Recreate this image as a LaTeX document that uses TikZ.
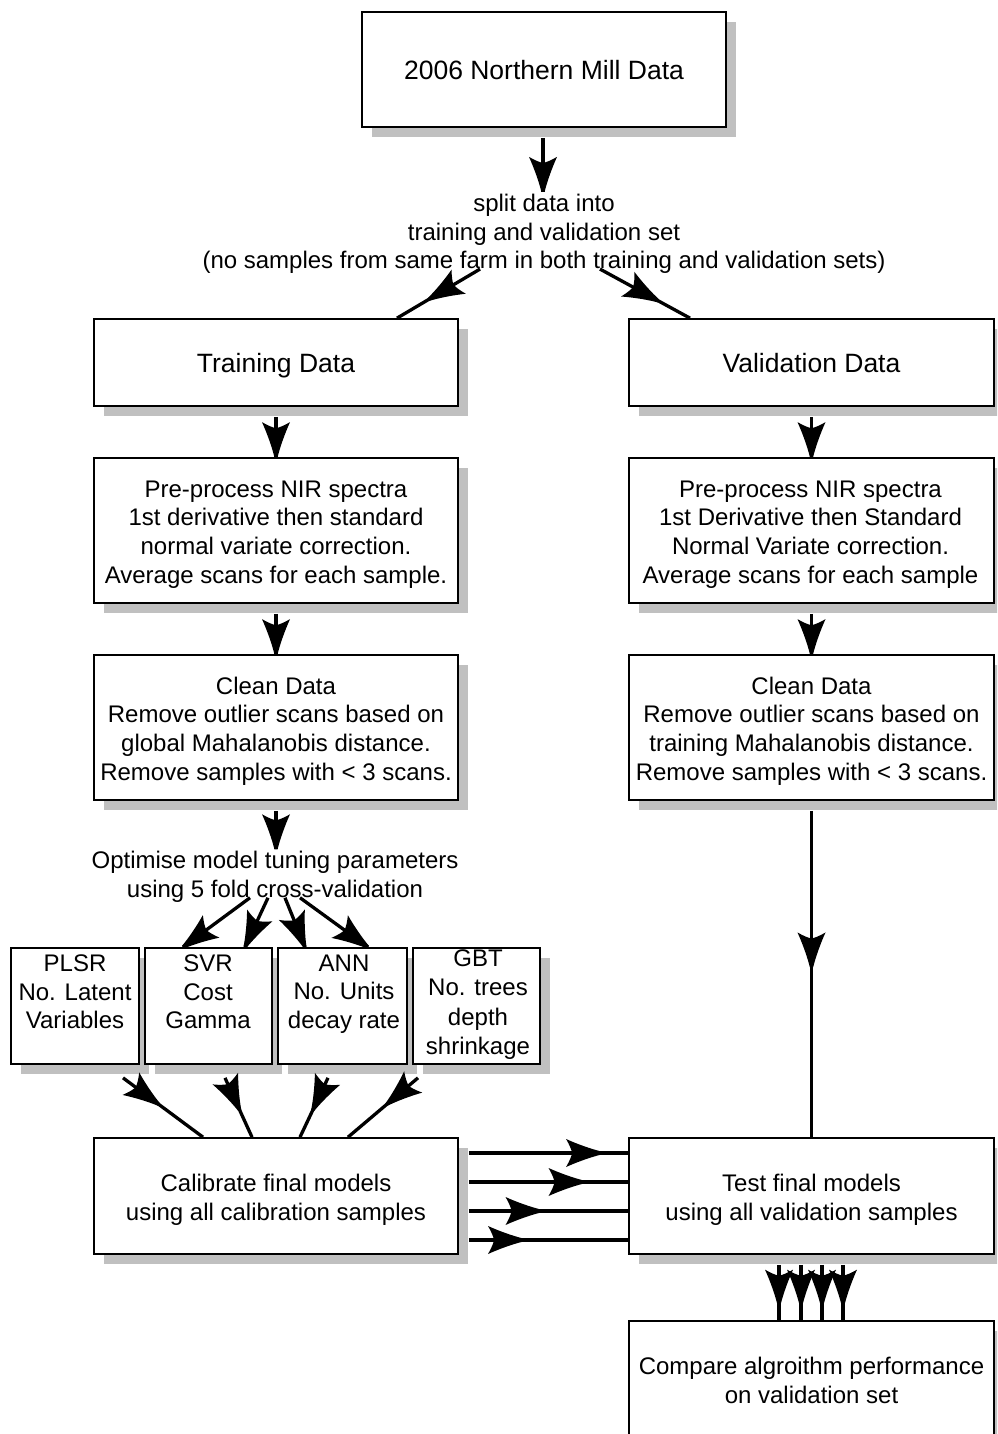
\documentclass[tikz,border=0pt]{standalone}
\usepackage{fontspec}
\setmainfont{Liberation Sans}
\usetikzlibrary{calc,shadows,decorations.markings}
\definecolor{shadowgrey}{HTML}{C0C0C0}
\newcommand{\flowfont}{\fontsize{24pt}{28.7pt}\selectfont}
\newcommand{\loosefont}{\fontsize{24pt}{29.3pt}\selectfont}
\newcommand{\titlefont}{\fontsize{26.5pt}{31pt}\selectfont}
% flared arrow head, tip at the origin, pointing along +x
\newcommand{\flarehead}{%
  \fill[black] (0pt,1.6pt) .. controls (-10pt,4pt) and (-24pt,9pt) .. (-35pt,14pt)
    .. controls (-31.5pt,8pt) and (-29.5pt,3pt) .. (-29pt,0pt)
    .. controls (-29.5pt,-3pt) and (-31.5pt,-8pt) .. (-35pt,-14pt)
    .. controls (-24pt,-9pt) and (-10pt,-4pt) .. (0pt,-1.6pt) -- cycle;}
\begin{document}
\begin{tikzpicture}[x=1pt,y=-1pt,
  box/.style={draw=black, line width=1.7pt, fill=white, inner sep=0pt,
    general shadow={fill=shadowgrey, draw=none, shadow xshift=10pt, shadow yshift=-10pt}},
  widebox/.style={box, minimum width=364pt},
  rightbox/.style={box, minimum width=365pt},
  smallbox/.style={box, minimum width=127pt, minimum height=116pt},
  txt/.style={align=center, inner sep=0pt, font=\flowfont},
  conn/.style={line width=3.3pt},
  headat/.style={postaction={decorate, decoration={markings,
    mark=at position #1 with {\flarehead}}}}]
\useasboundingbox (0,0) rectangle (997,1434);
\clip (0,0) rectangle (997,1434);

% boxes
\node[widebox, minimum height=115pt] (top) at (544,69.5) {};
\node[widebox, minimum height=87pt] (train) at (276,362.5) {};
\node[rightbox, minimum height=87pt] (valid) at (811.5,362.5) {};
\node[widebox, minimum height=145pt] (preT) at (276,530.5) {};
\node[rightbox, minimum height=145pt] (preV) at (811.5,530.5) {};
\node[widebox, minimum height=145pt] (cleanT) at (276,727.5) {};
\node[rightbox, minimum height=145pt] (cleanV) at (811.5,727.5) {};
\node[smallbox, minimum width=128pt] (plsr) at (75,1006) {};
\node[smallbox] (svr) at (208.5,1006) {};
\node[smallbox, minimum width=129pt] (ann) at (342.5,1006) {};
\node[smallbox] (gbt) at (476.5,1006) {};
\node[widebox, minimum height=116pt] (calib) at (276,1196) {};
\node[rightbox, minimum height=116pt] (test) at (811.5,1196) {};
\node[rightbox, minimum height=130pt] (compare) at (811.5,1386) {};

% box texts
\node[txt, font=\titlefont] (topL) at (544,70.5) {2006 Northern Mill Data};
\node[txt, font=\titlefont] (trainL) at (276,365.5) {Training Data};
\node[txt, font=\titlefont] (validL) at (811.5,363.5) {Validation Data};
\node[txt] (preTL) at (276,534.5) {Pre-process NIR spectra\\1st derivative then standard\\normal variate correction.\\Average scans for each sample.};
\node[txt] (preVL) at (810.5,534.5) {Pre-process NIR spectra\\1st Derivative then Standard\\Normal Variate correction.\\Average scans for each sample};
\node[txt] (cleanTL) at (276,731) {Clean Data\\Remove outlier scans based on\\global Mahalanobis distance.\\Remove samples with < 3 scans.};
\node[txt] (cleanVL) at (811.5,731) {Clean Data\\Remove outlier scans based on\\training Mahalanobis distance.\\Remove samples with < 3 scans.};
\node[txt] (plsrL) at (75,992) {PLSR\\No. Latent\\Variables};
\node[txt] (svrL) at (208,992) {SVR\\Cost\\Gamma};
\node[txt] (annL) at (344,994) {ANN\\No. Units\\decay rate};
\node[txt, font=\loosefont] (gbtL) at (478,1004.5) {GBT\\No. trees\\depth\\shrinkage};
\node[txt] (calibL) at (276,1200) {Calibrate final models\\using all calibration samples};
\node[txt] (testL) at (811.5,1200) {Test final models\\using all validation samples};
\node[txt] (compareL) at (811.5,1380.5) {Compare algroithm performance\\on validation set};

% free-standing texts
\node[txt] (split) at (544,234) {split data into\\training and validation set\\(no samples from same farm in both training and validation sets)};
\node[txt] (opt) at (275,877) {Optimise model tuning parameters\\using 5 fold cross-validation};

% connectors
\draw[conn, headat=1] ($(top.south)+(-1,10)$) -- ($(split.north)+(-1,-2)$);
\draw[conn, headat=0.62] ($(split.south)+(-64,-5)$) -- ($(train.north)+(121,0)$);
\draw[conn, headat=0.65] ($(split.south)+(56,-5)$) -- ($(valid.north)+(-121.5,0)$);

\draw[conn, headat=1] ($(train.south)+(0,10)$) -- (preT.north);
\draw[conn, headat=1] ($(preT.south)+(0,10)$) -- (cleanT.north);
\draw[conn, headat=1] ($(valid.south)+(0,10)$) -- (preV.north);
\draw[conn, headat=1] ($(preV.south)+(0,10)$) -- (cleanV.north);

\draw[conn, headat=1] ($(cleanT.south)+(0,10)$) -- ($(opt.north)+(1,-2)$);
\draw[conn, headat=1] ($(opt.south)+(-25,-5)$) -- ($(svr.north)+(-25.5,0)$);
\draw[conn, headat=1] ($(opt.south)+(-7,-5)$) -- ($(svr.north)+(36.5,0)$);
\draw[conn, headat=1] ($(opt.south)+(10,-5)$) -- ($(ann.north)+(-37.5,0)$);
\draw[conn, headat=1] ($(opt.south)+(25,-5)$) -- ($(ann.north)+(25.5,0)$);

\draw[conn, headat=0.45] ($(plsr.south)+(48,13)$) -- ($(calib.north)+(-73,0)$);
\draw[conn, headat=0.55] ($(svr.south)+(16.5,13)$) -- ($(calib.north)+(-24,0)$);
\draw[conn, headat=0.55] ($(ann.south)+(-14.5,13)$) -- ($(calib.north)+(24,0)$);
\draw[conn, headat=0.45] ($(gbt.south)+(-58.5,13)$) -- ($(calib.north)+(72,0)$);

\draw[conn, headat=0.83] ($(calib.east)+(10,-43)$) -- ($(test.west)+(0,-43)$);
\draw[conn, headat=0.72] ($(calib.east)+(10,-14)$) -- ($(test.west)+(0,-14)$);
\draw[conn, headat=0.45] ($(calib.east)+(10,15)$) -- ($(test.west)+(0,15)$);
\draw[conn, headat=0.34] ($(calib.east)+(10,44)$) -- ($(test.west)+(0,44)$);

\draw[conn, headat=0.48] ($(cleanV.south)+(0,10)$) -- (test.north);

\draw[conn, headat=0.72] ($(test.south)+(-32.5,10)$) -- ($(compare.north)+(-32.5,0)$);
\draw[conn, headat=0.72] ($(test.south)+(-10.5,10)$) -- ($(compare.north)+(-10.5,0)$);
\draw[conn, headat=0.72] ($(test.south)+(10.5,10)$) -- ($(compare.north)+(10.5,0)$);
\draw[conn, headat=0.72] ($(test.south)+(31.5,10)$) -- ($(compare.north)+(31.5,0)$);
\end{tikzpicture}
\end{document}
